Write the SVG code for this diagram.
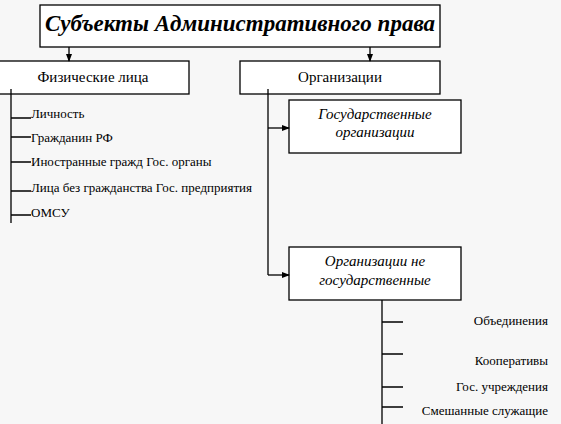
<svg xmlns="http://www.w3.org/2000/svg" width="561" height="424" viewBox="0 0 561 424" xml:lang="ru" font-family="'Times New Roman', 'Liberation Serif', serif">
<defs>
<marker id="ah" markerWidth="8" markerHeight="8" refX="7" refY="4" orient="auto" markerUnits="userSpaceOnUse">
<path d="M0,1 L8,4 L0,7 Z" fill="#000"/>
</marker>
</defs>
<rect width="561" height="424" fill="#f7f7f7"/>
<g id="title">
<rect x="40" y="5" width="400" height="42" fill="#fff" stroke="#000" stroke-width="1.3"/>
<text x="240" y="31" style="font-family:'Times New Roman','Liberation Serif',serif" font-size="23" font-weight="bold" font-style="italic" text-anchor="middle">Субъекты Административного права</text>
</g>
<g id="fiz">
<rect x="-1" y="61" width="190" height="33" fill="#fff" stroke="#000" stroke-width="1.3"/>
<text x="93" y="82" style="font-family:'Times New Roman','Liberation Serif',serif" font-size="15" text-anchor="middle">Физические лица</text>
</g>
<g id="org">
<rect x="240" y="61" width="200" height="33" fill="#fff" stroke="#000" stroke-width="1.3"/>
<text x="340" y="82" style="font-family:'Times New Roman','Liberation Serif',serif" font-size="15" text-anchor="middle">Организации</text>
</g>
<g id="gos">
<rect x="289" y="100" width="172" height="53" fill="#fff" stroke="#000" stroke-width="1.3"/>
<text x="375" y="119" style="font-family:'Times New Roman','Liberation Serif',serif" font-size="15" font-style="italic" text-anchor="middle">Государственные</text>
<text x="375" y="137" style="font-family:'Times New Roman','Liberation Serif',serif" font-size="15" font-style="italic" text-anchor="middle">организации</text>
</g>
<g id="negos">
<rect x="289" y="247" width="172" height="53" fill="#fff" stroke="#000" stroke-width="1.3"/>
<text x="375" y="266" style="font-family:'Times New Roman','Liberation Serif',serif" font-size="15" font-style="italic" text-anchor="middle">Организации не</text>
<text x="375" y="285" style="font-family:'Times New Roman','Liberation Serif',serif" font-size="15" font-style="italic" text-anchor="middle">государственные</text>
</g>
<g id="fiz-items">
<text x="31" y="118" style="font-family:'Times New Roman','Liberation Serif',serif" font-size="13">Личность</text>
<text x="31" y="142" style="font-family:'Times New Roman','Liberation Serif',serif" font-size="13">Гражданин РФ</text>
<text x="31" y="166" style="font-family:'Times New Roman','Liberation Serif',serif" font-size="13">Иностранные гражд Гос. органы</text>
<text x="31" y="192" style="font-family:'Times New Roman','Liberation Serif',serif" font-size="13">Лица без гражданства Гос. предприятия</text>
<text x="31" y="217" style="font-family:'Times New Roman','Liberation Serif',serif" font-size="13">ОМСУ</text>
</g>
<g id="org-items">
<text x="548" y="325" style="font-family:'Times New Roman','Liberation Serif',serif" font-size="13" text-anchor="end">Объединения</text>
<text x="548" y="365" style="font-family:'Times New Roman','Liberation Serif',serif" font-size="13" text-anchor="end">Кооперативы</text>
<text x="548" y="391" style="font-family:'Times New Roman','Liberation Serif',serif" font-size="13" text-anchor="end">Гос. учреждения</text>
<text x="548" y="415" style="font-family:'Times New Roman','Liberation Serif',serif" font-size="13" text-anchor="end">Смешанные служащие</text>
</g>
<g id="connectors" stroke="#000" stroke-width="1.3" fill="none">
<line x1="69" y1="47" x2="69" y2="61" marker-end="url(#ah)"/>
<line x1="370" y1="47" x2="370" y2="61" marker-end="url(#ah)"/>
<path d="M11,89 V223 M11,118 H31 M11,137 H31 M11,162 H31 M11,191 H31 M11,215 H31"/>
<path d="M268,89 V275"/>
<line x1="268" y1="128" x2="289" y2="128" marker-end="url(#ah)"/>
<line x1="268" y1="275" x2="289" y2="275" marker-end="url(#ah)"/>
<path d="M382,300 V424 M382,322 H403 M382,354 H403 M382,387 H403 M382,407 H403"/>
</g>
</svg>
